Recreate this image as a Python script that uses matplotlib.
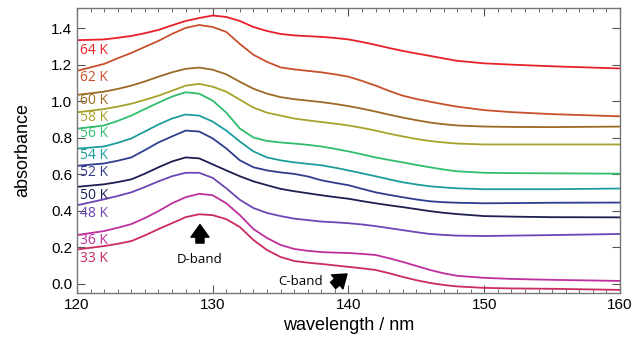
import matplotlib
matplotlib.use('Agg')
import matplotlib.pyplot as plt
from matplotlib.ticker import MultipleLocator

plt.rcParams['font.family'] = ['Liberation Sans', 'DejaVu Sans']

wavelength = [120, 122, 123, 124, 125, 126, 127, 128, 129, 130, 131, 132, 133, 134,
              135, 136, 137, 138, 139, 140, 141, 142, 143, 144, 145, 146, 147, 148,
              150, 152, 155, 160]

abs_64K = [1.334, 1.338, 1.347, 1.357, 1.372, 1.390, 1.415, 1.439, 1.455, 1.469, 1.461, 1.439,
           1.406, 1.384, 1.368, 1.360, 1.356, 1.352, 1.346, 1.338, 1.324, 1.308, 1.291, 1.275,
           1.261, 1.248, 1.234, 1.221, 1.207, 1.200, 1.191, 1.179]
abs_62K = [1.166, 1.204, 1.235, 1.264, 1.297, 1.330, 1.368, 1.401, 1.417, 1.406, 1.379, 1.313,
           1.254, 1.215, 1.185, 1.174, 1.166, 1.158, 1.147, 1.134, 1.111, 1.085, 1.056, 1.030,
           1.012, 0.997, 0.983, 0.970, 0.951, 0.940, 0.929, 0.917]
abs_60K = [1.034, 1.052, 1.067, 1.085, 1.108, 1.134, 1.158, 1.177, 1.184, 1.172, 1.147, 1.106,
           1.068, 1.041, 1.022, 1.011, 1.003, 0.995, 0.985, 0.973, 0.959, 0.943, 0.926, 0.910,
           0.896, 0.883, 0.874, 0.867, 0.861, 0.859, 0.858, 0.861]
abs_58K = [0.939, 0.957, 0.970, 0.986, 1.007, 1.030, 1.057, 1.085, 1.095, 1.079, 1.052, 1.008,
           0.965, 0.937, 0.921, 0.905, 0.895, 0.886, 0.877, 0.867, 0.854, 0.839, 0.822, 0.807,
           0.793, 0.782, 0.774, 0.768, 0.763, 0.763, 0.763, 0.763]
abs_56K = [0.849, 0.867, 0.892, 0.921, 0.957, 0.992, 1.025, 1.049, 1.041, 1.003, 0.937, 0.850,
           0.801, 0.782, 0.774, 0.768, 0.761, 0.752, 0.739, 0.725, 0.709, 0.692, 0.678, 0.665,
           0.651, 0.638, 0.626, 0.616, 0.608, 0.606, 0.605, 0.603]
abs_54K = [0.740, 0.752, 0.772, 0.796, 0.834, 0.872, 0.905, 0.927, 0.921, 0.888, 0.839, 0.779,
           0.725, 0.692, 0.676, 0.665, 0.657, 0.649, 0.636, 0.621, 0.605, 0.589, 0.572, 0.556,
           0.544, 0.534, 0.528, 0.523, 0.518, 0.518, 0.518, 0.522]
abs_52K = [0.646, 0.659, 0.674, 0.692, 0.732, 0.774, 0.807, 0.839, 0.834, 0.796, 0.741, 0.676,
           0.638, 0.621, 0.610, 0.602, 0.588, 0.567, 0.553, 0.540, 0.520, 0.501, 0.487, 0.474,
           0.462, 0.452, 0.447, 0.444, 0.441, 0.442, 0.444, 0.445]
abs_50K = [0.531, 0.545, 0.557, 0.572, 0.603, 0.638, 0.670, 0.692, 0.687, 0.654, 0.621, 0.589,
           0.561, 0.540, 0.520, 0.507, 0.496, 0.485, 0.475, 0.466, 0.453, 0.441, 0.430, 0.420,
           0.409, 0.398, 0.389, 0.382, 0.371, 0.368, 0.365, 0.364]
abs_48K = [0.430, 0.463, 0.481, 0.501, 0.530, 0.561, 0.589, 0.608, 0.608, 0.580, 0.523, 0.460,
           0.415, 0.388, 0.371, 0.357, 0.349, 0.341, 0.337, 0.332, 0.325, 0.316, 0.305, 0.294,
           0.283, 0.273, 0.268, 0.264, 0.262, 0.264, 0.267, 0.273]
abs_36K = [0.267, 0.289, 0.307, 0.327, 0.360, 0.398, 0.441, 0.474, 0.493, 0.485, 0.441, 0.376,
           0.300, 0.251, 0.213, 0.191, 0.181, 0.174, 0.171, 0.169, 0.164, 0.158, 0.140, 0.120,
           0.098, 0.076, 0.058, 0.044, 0.033, 0.027, 0.022, 0.016]
abs_33K = [0.188, 0.207, 0.219, 0.234, 0.265, 0.300, 0.332, 0.365, 0.381, 0.376, 0.354, 0.311,
           0.240, 0.185, 0.147, 0.125, 0.116, 0.109, 0.101, 0.093, 0.085, 0.076, 0.058, 0.038,
           0.020, 0.005, -0.006, -0.014, -0.022, -0.025, -0.027, -0.033]

temp_labels = ['64 K', '62 K', '60 K', '58 K', '56 K', '54 K', '52 K', '50 K', '48 K', '36 K', '33 K']
label_y = [1.279, 1.130, 1.003, 0.912, 0.821, 0.703, 0.612, 0.485, 0.385, 0.240, 0.140]

series = [abs_64K, abs_62K, abs_60K, abs_58K, abs_56K, abs_54K,
          abs_52K, abs_50K, abs_48K, abs_36K, abs_33K]
colors = ['#e8202a', '#c9502c', '#9c6a24', '#a8a22c', '#2fbd6e', '#1c9c9c',
          '#2f3d8e', '#1d1f52', '#6c46b2', '#bf2f9c', '#cb2b5e']

label_font = ['Open Sans', 'DejaVu Sans']

fig = plt.figure(figsize=(6.33, 3.42), dpi=100)
ax = fig.add_axes([0.1216, 0.1433, 0.8579, 0.8333])

for ys, col, lab, ly in zip(series, colors, temp_labels, label_y):
    ax.plot(wavelength, ys, color=col, lw=1.3)
    ax.text(120.25, ly, lab, color=col, fontsize=10, va='center', ha='left', family=label_font)

# band markers
arrow_style = 'simple,head_length=0.7,head_width=1.0,tail_width=0.45'
ax.annotate('', xy=(129.06, 0.340), xytext=(129.06, 0.208),
            arrowprops=dict(arrowstyle=arrow_style, fc='black', ec='black', mutation_scale=13))
ax.text(129.06, 0.136, 'D-band', fontsize=9.5, ha='center', va='center', family=label_font)
ax.annotate('', xy=(140.05, 0.064), xytext=(138.7, -0.018),
            arrowprops=dict(arrowstyle=arrow_style, fc='black', ec='black', mutation_scale=13))
ax.text(136.5, 0.0125, 'C-band', fontsize=9.5, ha='center', va='center', family=label_font)

ax.set_xlim(120, 160)
ax.set_ylim(-0.05, 1.51)
ax.xaxis.set_major_locator(MultipleLocator(10))
ax.xaxis.set_minor_locator(MultipleLocator(1))
ax.yaxis.set_major_locator(MultipleLocator(0.2))
ax.yaxis.set_major_formatter(plt.FormatStrFormatter('%.1f'))
ax.tick_params(which='both', direction='in', top=True, right=True, color='#555555')
ax.tick_params(which='major', length=6, labelsize=11)
ax.tick_params(which='minor', length=3)
for sp in ax.spines.values():
    sp.set_color('#777777')
    sp.set_linewidth(1.0)

ax.set_xlabel('wavelength / nm', fontsize=13)
ax.set_ylabel('absorbance', fontsize=13, labelpad=14)

fig.savefig('out.png', dpi=100)
